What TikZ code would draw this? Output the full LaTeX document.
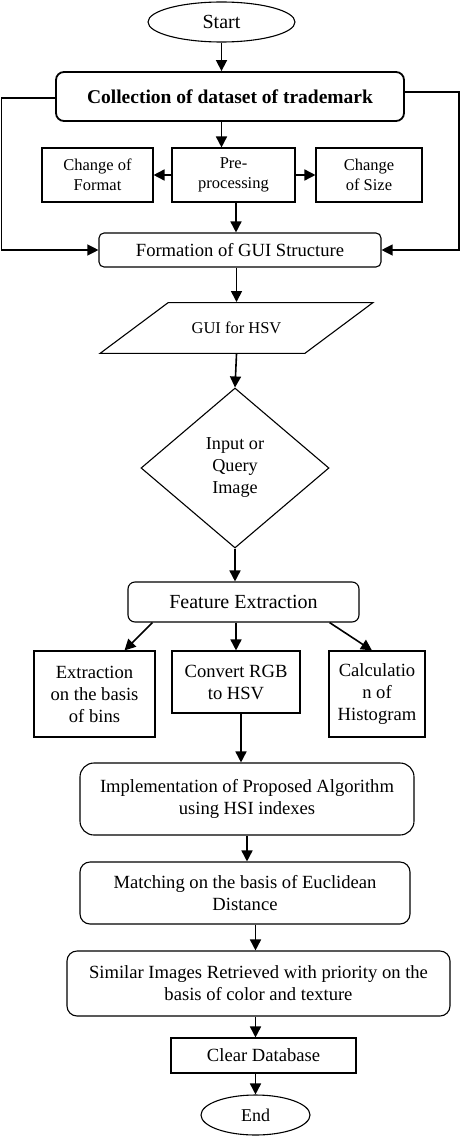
\documentclass[tikz,border=0pt]{standalone}
\usepackage{fontspec}
\setmainfont{Liberation Serif}
\usetikzlibrary{shapes.geometric, arrows.meta, positioning, calc}

\begin{document}
\begin{tikzpicture}[
    x=1pt, y=-1pt,
    font=\fontsize{18.6}{22}\selectfont,
    box/.style={
        rectangle, draw=black, line width=1.1pt,
        align=center, inner sep=0pt
    },
    rbox/.style={
        box, rounded corners=10pt
    },
    small/.style={
        font=\fontsize{16.5}{20}\selectfont
    },
    term/.style={
        ellipse, draw=black, line width=1.1pt,
        inner sep=0pt
    },
    arrow/.style={
        -{Triangle[length=11pt,width=11pt]},
        draw=black, line width=1.6pt
    },
    loop/.style={
        -{Triangle[length=11pt,width=11pt]},
        draw=black, line width=1.2pt
    }
]
    \useasboundingbox (0,0) rectangle (460,1137);

    \node[term, minimum width=147pt, minimum height=40pt, font=\fontsize{20}{22}\selectfont] (start) at (221.5,22) {Start};
    \node[rbox, line width=1.8pt, rounded corners=8pt, minimum width=348pt, minimum height=49pt, font=\bfseries\fontsize{19.5}{22}\selectfont] (collect) at (230,96.5) {Collection of dataset of trademark};

    \node[box, small, minimum width=111pt, minimum height=54pt] (fmt) at (97.5,175) {Change of\\Format};
    \node[box, small, minimum width=123pt, minimum height=54pt] (pre) at (233.5,175) {Pre-\\processing};
    \node[box, small, minimum width=106pt, minimum height=54pt] (size) at (369,175) {Change\\of Size};

    \node[rbox, rounded corners=5pt, minimum width=282pt, minimum height=34pt] (form) at (240,250) {Formation of GUI Structure};

    \node[trapezium, draw=black, line width=1.1pt, small, trapezium left angle=36.7, trapezium right angle=143.3,
        trapezium stretches body, minimum width=273pt, inner xsep=0pt, inner ysep=19.5pt] (gui) at (236.5,328) {GUI for HSV};

    \node[diamond, draw=black, line width=1.1pt, aspect=1.175, minimum width=188pt, minimum height=160pt,
        inner sep=0pt, align=center, font=\fontsize{18.2}{22}\selectfont] (query) at (235,468) {Input or\\Query\\Image};

    \node[rbox, rounded corners=7pt, minimum width=231pt, minimum height=40pt, font=\fontsize{20}{22}\selectfont] (feat) at (243.5,602) {Feature Extraction};

    \node[box, minimum width=121pt, minimum height=86pt] (bins) at (94.5,694) {Extraction\\on the basis\\of bins};
    \node[box, minimum width=128pt, minimum height=62pt] (rgb) at (236,682) {Convert RGB\\to HSV};
    \node[box, minimum width=96pt, minimum height=86pt] (hist) at (377,694) {Calculatio\\n of\\Histogram};

    \node[rbox, rounded corners=14pt, minimum width=334pt, minimum height=72pt] (impl) at (247,799) {Implementation of Proposed Algorithm\\using HSI indexes};
    \node[rbox, minimum width=330pt, minimum height=62pt] (match) at (245,893) {Matching on the basis of Euclidean\\Distance};
    \node[rbox, minimum width=383pt, minimum height=65pt] (similar) at (258.5,983.5) {Similar Images Retrieved with priority on the\\basis of color and texture};
    \node[box, minimum width=185pt, minimum height=35pt] (clear) at (263.5,1055.5) {Clear Database};
    \node[term, minimum width=109pt, minimum height=40pt, font=\fontsize{18}{22}\selectfont] (end) at (255.5,1115) {End};

    \draw[arrow] (start.south) -- (start.south |- collect.north);
    \draw[arrow] (collect.south -| start.south) -- (pre.north -| start.south);
    \draw[arrow] (pre.west) -- (fmt.east);
    \draw[arrow] (pre.east) -- (size.west);
    \draw[arrow] ([xshift=2.5pt]pre.south) -- ([xshift=2.5pt]pre.south |- form.north);

    \draw[loop] ([yshift=-1.5pt]collect.west) -- ++(-54,0) |- (form.west);
    \draw[loop] ([yshift=4.5pt]collect.east) -- ++(54,0) |- (form.east);

    \draw[arrow] (gui.north |- form.south) -- (gui.north);
    \draw[arrow] (gui.south) -- (query.north);
    \draw[arrow] (query.south) -- (query.south |- feat.north);

    \draw[arrow] ([xshift=25pt]feat.south west) -- ([xshift=30pt]bins.north);
    \draw[arrow] (rgb.north |- feat.south) -- (rgb.north);
    \draw[arrow] ([xshift=-30pt]feat.south east) -- ([xshift=-5pt]hist.north);

    \draw[arrow] ([xshift=5pt]rgb.south) -- ([xshift=5pt]rgb.south |- impl.north);
    \draw[arrow] (impl.south) -- (impl.south |- match.north);
    \draw[arrow] (end.north |- match.south) -- (end.north |- similar.north);
    \draw[arrow] (end.north |- similar.south) -- (end.north |- clear.north);
    \draw[arrow] (end.north |- clear.south) -- (end.north);
\end{tikzpicture}
\end{document}
